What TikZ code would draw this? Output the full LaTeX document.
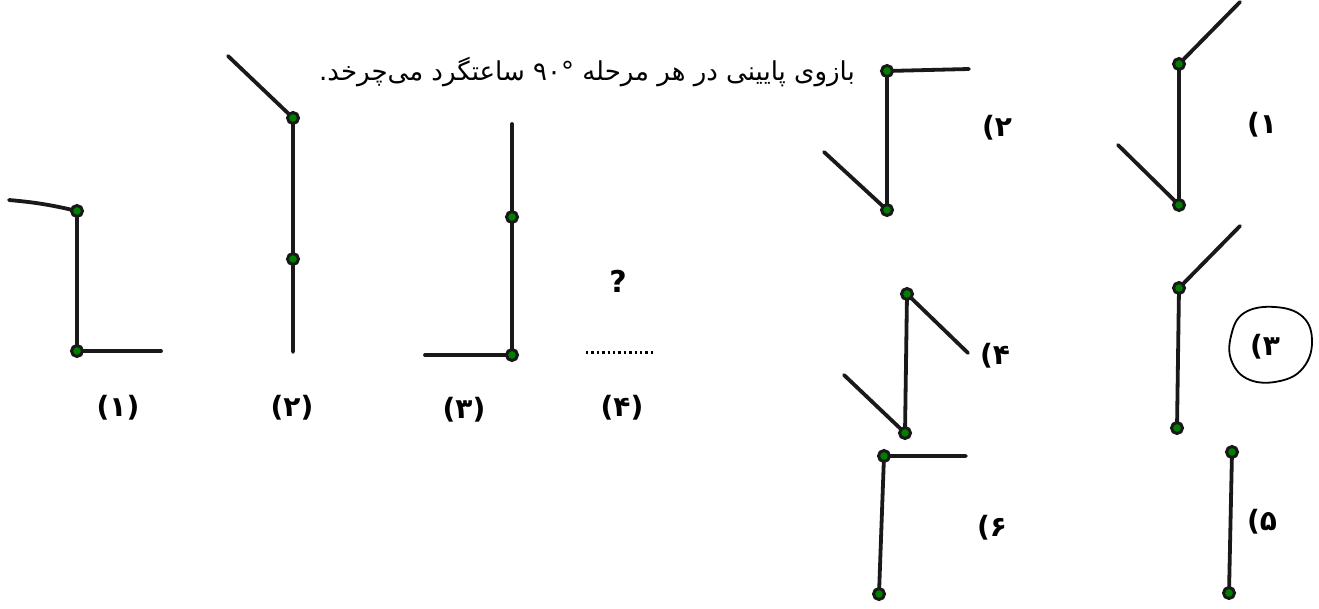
\documentclass[tikz,border=0pt]{standalone}
\usepackage{fontspec}
\TeXXeTstate=1
\newfontfamily\arabicfont[Script=Arabic]{DejaVu Sans}
\newfontfamily\lblfont{DejaVu Sans}
\begin{document}
\begin{tikzpicture}[x=1pt,y=-1pt,
  arm/.style={line width=3.8pt,line cap=round,black!90},
  joint/.style={circle,draw=black!90,line width=3pt,fill=green!50!black,inner sep=0pt,minimum size=11pt},
  lbl/.style={font=\lblfont\bfseries\fontsize{28}{32}\selectfont,inner sep=0pt},
  hand/.style={font=\arabicfont\fontsize{26}{30}\selectfont,inner sep=0pt}]
\useasboundingbox[fill=white] (0,0) rectangle (1319,608);

% ---------- handwritten note ----------
\node[hand,anchor=east] (note) at (855,72) {\beginR بازوی پایینی در هر مرحله \beginL۹۰°\endL{} ساعتگرد می‌چرخد.\endR};

% ---------- sequence, figure (1) ----------
\coordinate (a1t) at (77,211);
\coordinate (a1b) at (77,351);
\coordinate (a1u) at (9,200);
\coordinate (a1r) at (161,351);
\draw[arm] (a1u) to[bend left=4] (a1t);
\draw[arm] (a1t) -- (a1b) -- (a1r);
\node[joint] (j1t) at (a1t) {};
\node[joint] (j1b) at (a1b) {};

% ---------- figure (2) ----------
\coordinate (a2t) at (293,118);
\coordinate (a2m) at (293,259);
\coordinate (a2b) at (293,352);
\coordinate (a2u) at (228,56);
\draw[arm] (a2u) -- (a2t) -- (a2b);
\node[joint] (j2t) at (a2t) {};
\node[joint] (j2m) at (a2m) {};

% ---------- figure (3) ----------
\coordinate (a3t) at (512,124);
\coordinate (a3m) at (512,217);
\coordinate (a3b) at (512,355);
\coordinate (a3l) at (425,355);
\draw[arm] (a3t) -- (a3b) -- (a3l);
\node[joint] (j3m) at (a3m) {};
\node[joint] (j3b) at (a3b) {};

% ---------- figure (4) ----------
\node[font=\lblfont\bfseries\fontsize{30}{34}\selectfont] (q) at (618,281) {?};
\coordinate (d4l) at (586,352);
\coordinate (d4r) at (655,352);
\draw[line width=3pt,dash pattern=on 2.4pt off 3pt] (d4l) -- (d4r);

% ---------- sequence labels ----------
\node[lbl] (l1) at (118,408) {(۱)};
\node[lbl] (l2) at (292,408) {(۲)};
\node[lbl] (l3) at (464,410) {(۳)};
\node[lbl] (l4) at (622,408) {(۴)};

% ---------- option 2 ----------
\coordinate (o2t) at (887,71);
\coordinate (o2r) at (969,69);
\coordinate (o2b) at (887,210);
\coordinate (o2l) at (824,152);
\draw[arm] (o2r) -- (o2t) -- (o2b) -- (o2l);
\node[joint] (p2t) at (o2t) {};
\node[joint] (p2b) at (o2b) {};
\node[lbl] (ol2) at (997,128) {(۲};

% ---------- option 1 ----------
\coordinate (o1t) at (1179,64);
\coordinate (o1u) at (1240,2);
\coordinate (o1b) at (1179,205);
\coordinate (o1l) at (1118,145);
\draw[arm] (o1u) -- (o1t) -- (o1b) -- (o1l);
\node[joint] (p1t) at (o1t) {};
\node[joint] (p1b) at (o1b) {};
\node[lbl] (ol1) at (1262,125) {(۱};

% ---------- option 3 ----------
\coordinate (o3t) at (1179,288);
\coordinate (o3u) at (1240,226);
\coordinate (o3b) at (1177,428);
\draw[arm] (o3u) -- (o3t) -- (o3b);
\node[joint] (p3t) at (o3t) {};
\node[joint] (p3b) at (o3b) {};
\node[lbl] (ol3) at (1265,347) {(۳};
\draw[line width=1.8pt] plot[smooth cycle,tension=0.7] coordinates
  {(1231,336) (1244,313) (1275,307) (1303,317) (1312,342) (1303,368) (1280,381) (1250,380) (1232,362)};

% ---------- option 4 ----------
\coordinate (o4t) at (907,294);
\coordinate (o4r) at (968,353);
\coordinate (o4b) at (905,433);
\coordinate (o4l) at (844,375);
\draw[arm] (o4r) -- (o4t) -- (o4b) -- (o4l);
\node[joint] (p4t) at (o4t) {};
\node[joint] (p4b) at (o4b) {};
\node[lbl] (ol4) at (995,356) {(۴};

% ---------- option 6 ----------
\coordinate (o6t) at (884,456);
\coordinate (o6r) at (966,456);
\coordinate (o6b) at (879,594);
\draw[arm] (o6r) -- (o6t) -- (o6b);
\node[joint] (p6t) at (o6t) {};
\node[joint] (p6b) at (o6b) {};
\node[lbl] (ol6) at (992,528) {(۶};

% ---------- option 5 ----------
\coordinate (o5t) at (1232,452);
\coordinate (o5b) at (1229,593);
\draw[arm] (o5t) -- (o5b);
\node[joint] (p5t) at (o5t) {};
\node[joint] (p5b) at (o5b) {};
\node[lbl] (ol5) at (1262,522) {(۵};
\end{tikzpicture}
\end{document}
